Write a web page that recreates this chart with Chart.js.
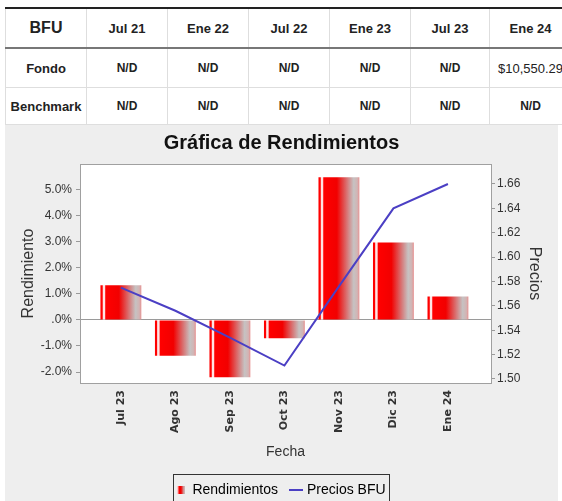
<!DOCTYPE html>
<html>
<head>
<meta charset="utf-8">
<script src="https://cdn.jsdelivr.net/npm/chart.js@4.4.1/dist/chart.umd.min.js"></script>
<style>
    body {
        margin: 0;
        width: 562px;
        height: 501px;
        overflow: hidden;
        position: relative;
        background: #fff;
        font-family: "Liberation Sans", Arial, sans-serif;
    }
    #tabla {
        position: absolute;
        left: 5px;
        top: 7px;
        width: 566px;
        border-collapse: collapse;
        table-layout: fixed;
        color: #222;
    }
    #tabla td {
        border: 1px solid #dedede;
        text-align: center;
        font-weight: bold;
        font-size: 12px;
        padding: 0;
        white-space: nowrap;
    }
    #tabla tr:first-child td {
        border-top: 2px solid #222;
        border-bottom: 2px solid #777;
        height: 38px;
        font-size: 13px;
    }
    #tabla tr:nth-child(2) td { height: 38px; }
    #tabla tr:nth-child(3) td { height: 36px; }
    #tabla td.fila { font-size: 13px; }
    #tabla tr:first-child td.bfu { font-size: 16px; }
    #tabla td.monto { font-weight: normal; font-size: 13px; }
    #panel {
        position: absolute;
        left: 5px;
        top: 125px;
        width: 553px;
        height: 410px;
        background: #eeeeee;
    }
</style>
</head>
<body>

<table id="tabla"></table>

<div id="panel">
    <canvas id="grafica" width="553" height="410"></canvas>
</div>

<script>
// tabla superior
const columnas = ['Jul 21', 'Ene 22', 'Jul 22', 'Ene 23', 'Jul 23', 'Ene 24'];
const fondo = ['N/D', 'N/D', 'N/D', 'N/D', 'N/D', '$10,550.29'];
const benchmark = ['N/D', 'N/D', 'N/D', 'N/D', 'N/D', 'N/D'];

// grafica
const fechas = ['Jul 23', 'Ago 23', 'Sep 23', 'Oct 23', 'Nov 23', 'Dic 23', 'Ene 24'];
const rendimientos = [1.33, -1.37, -2.2, -0.7, 5.47, 2.97, 0.9];
const preciosBFU = [1.575, 1.556, 1.534, 1.511, 1.576, 1.640, 1.660];

const FONT = '"Liberation Sans", Arial, sans-serif';
const AZUL = '#4b3fc4';

function buildTable() {
    const tabla = document.getElementById('tabla');
    const anchos = [81, 81, 81, 81, 81, 79, 82];
    let html = '<colgroup>' + anchos.map(a => `<col style="width:${a}px">`).join('') + '</colgroup>';
    html += '<tr><td class="bfu">BFU</td>' + columnas.map(c => `<td>${c}</td>`).join('') + '</tr>';
    html += '<tr><td class="fila">Fondo</td>' +
        fondo.map(v => `<td class="${v.startsWith('$') ? 'monto' : ''}">${v}</td>`).join('') + '</tr>';
    html += '<tr><td class="fila">Benchmark</td>' + benchmark.map(v => `<td>${v}</td>`).join('') + '</tr>';
    tabla.innerHTML = html;
}
buildTable();

function addStops(g) {
    g.addColorStop(0, '#ff0000');
    g.addColorStop(0.045, '#ff0000');
    g.addColorStop(0.065, '#ffe4e4');
    g.addColorStop(0.1, '#ffe4e4');
    g.addColorStop(0.13, '#ff0000');
    g.addColorStop(0.45, '#f20000');
    g.addColorStop(0.86, '#c6c2c2');
    g.addColorStop(0.95, '#d2b4b4');
    g.addColorStop(1, '#e89090');
    return g;
}

function barGradient(c) {
    const chart = c.chart;
    const x = chart.scales.x;
    if (c.type !== 'data' || !x || !chart.chartArea) return '#ff0000';
    const paso = x.getPixelForValue(1) - x.getPixelForValue(0);
    const cx = x.getPixelForValue(c.dataIndex);
    const w = paso * 0.75;
    return addStops(chart.ctx.createLinearGradient(cx - w / 2, 0, cx + w / 2, 0));
}

// marcadores de la leyenda
const marcaBarra = document.createElement('canvas');
marcaBarra.width = 8;
marcaBarra.height = 8;
(() => {
    const m = marcaBarra.getContext('2d');
    m.fillStyle = addStops(m.createLinearGradient(0, 0, 8, 0));
    m.fillRect(0, 0, 8, 8);
})();

const marcaLinea = document.createElement('canvas');
marcaLinea.width = 14;
marcaLinea.height = 2;
(() => {
    const m = marcaLinea.getContext('2d');
    m.fillStyle = AZUL;
    m.fillRect(0, 0, 14, 2);
})();

const marcos = {
    id: 'marcos',
    beforeDraw(chart) {
        const {ctx, chartArea: a} = chart;
        ctx.save();
        ctx.fillStyle = '#ffffff';
        ctx.fillRect(a.left, a.top, a.right - a.left, a.bottom - a.top);
        ctx.restore();
    },
    afterDatasetsDraw(chart) {
        const {ctx, chartArea: a} = chart;
        ctx.save();
        ctx.strokeStyle = '#a0a0a0';
        ctx.lineWidth = 1;
        ctx.strokeRect(Math.round(a.left) + 0.5, Math.round(a.top) + 0.5,
            Math.round(a.right - a.left), Math.round(a.bottom - a.top));
        ctx.restore();
    },
    afterDraw(chart) {
        const lg = chart.legend;
        if (!lg || !lg.legendHitBoxes || !lg.legendHitBoxes.length) return;
        const cajas = lg.legendHitBoxes;
        const izq = Math.min(...cajas.map(h => h.left)) - 4;
        const der = Math.max(...cajas.map(h => h.left + h.width)) + 4;
        const arriba = cajas[0].top + 7 - 16;
        const ctx = chart.ctx;
        ctx.save();
        ctx.strokeStyle = '#333333';
        ctx.lineWidth = 1;
        ctx.strokeRect(Math.round(izq) + 0.5, Math.round(arriba) + 0.5, Math.round(der - izq), 40);
        ctx.restore();
    }
};

const chart = new Chart(document.getElementById('grafica'), {
    type: 'bar',
    data: {
        datasets: [{
            type: 'line',
            label: 'Precios BFU',
            data: preciosBFU.map((v, i) => ({x: i, y: v})),
            yAxisID: 'y2',
            borderColor: AZUL,
            borderWidth: 2,
            pointRadius: 0,
            tension: 0,
            order: 0
        }, {
            label: 'Rendimientos',
            data: rendimientos.map((v, i) => ({x: i, y: v})),
            yAxisID: 'y',
            backgroundColor: barGradient,
            borderWidth: 0,
            barPercentage: 0.75,
            categoryPercentage: 1,
            order: 1
        }]
    },
    options: {
        responsive: false,
        animation: false,
        layout: {padding: {left: 0, right: 0, top: 0, bottom: 28}},
        plugins: {
            title: {
                display: true,
                text: 'Gráfica de Rendimientos',
                color: '#111',
                font: {family: FONT, size: 20, weight: 'bold'},
                padding: {top: 6, bottom: 9}
            },
            legend: {
                position: 'bottom',
                labels: {
                    usePointStyle: true,
                    pointStyleWidth: 8,
                    boxHeight: 8,
                    padding: 14,
                    color: '#111',
                    font: {family: FONT, size: 14},
                    generateLabels: () => [
                        {text: 'Rendimientos', pointStyle: marcaBarra, fillStyle: '#f00', strokeStyle: '#f00', lineWidth: 0, hidden: false, datasetIndex: 1},
                        {text: 'Precios BFU', pointStyle: marcaLinea, fillStyle: AZUL, strokeStyle: AZUL, lineWidth: 0, hidden: false, datasetIndex: 0}
                    ]
                }
            },
            tooltip: {enabled: false}
        },
        scales: {
            x: {
                type: 'linear',
                offset: false,
                min: -0.75,
                max: 6.79,
                afterFit: s => { s.height = 86; },
                afterBuildTicks: s => { s.ticks = fechas.map((_, i) => ({value: i})); },
                ticks: {
                    autoSkip: false,
                    minRotation: 90,
                    maxRotation: 90,
                    padding: 7,
                    color: '#333',
                    font: {family: '"DejaVu Sans", sans-serif', size: 11, weight: 'bold'},
                    callback: v => fechas[v]
                },
                grid: {display: false, drawTicks: false},
                border: {display: false},
                title: {
                    display: true,
                    text: 'Fecha',
                    color: '#333',
                    font: {family: FONT, size: 14},
                    padding: {top: 0, bottom: 8}
                }
            },
            y: {
                position: 'left',
                min: -2.42,
                max: 5.98,
                afterFit: s => { s.width = 75; },
                ticks: {
                    stepSize: 1,
                    includeBounds: false,
                    padding: 4,
                    color: '#333',
                    font: {family: FONT, size: 12},
                    callback: v => v === 0 ? '.0%' : v.toFixed(1) + '%'
                },
                grid: {
                    drawOnChartArea: true,
                    tickLength: 4,
                    tickColor: '#999',
                    color: c => (c.tick && c.tick.value === 0) ? '#9a9a9a' : 'rgba(0,0,0,0)'
                },
                border: {display: false},
                title: {
                    display: true,
                    text: 'Rendimiento',
                    color: '#333',
                    font: {family: FONT, size: 16},
                    padding: {top: 14, bottom: 0}
                }
            },
            y2: {
                position: 'right',
                min: 1.4967,
                max: 1.6764,
                afterFit: s => { s.width = 67; },
                ticks: {
                    stepSize: 0.02,
                    includeBounds: false,
                    padding: 2,
                    color: '#333',
                    font: {family: FONT, size: 12},
                    callback: v => v.toFixed(2)
                },
                grid: {
                    drawOnChartArea: false,
                    tickLength: 4,
                    tickColor: '#999'
                },
                border: {display: false},
                title: {
                    display: true,
                    text: 'Precios',
                    color: '#333',
                    font: {family: FONT, size: 16},
                    padding: {top: 14, bottom: 0}
                }
            }
        }
    },
    plugins: [marcos]
});
</script>
</body>
</html>
